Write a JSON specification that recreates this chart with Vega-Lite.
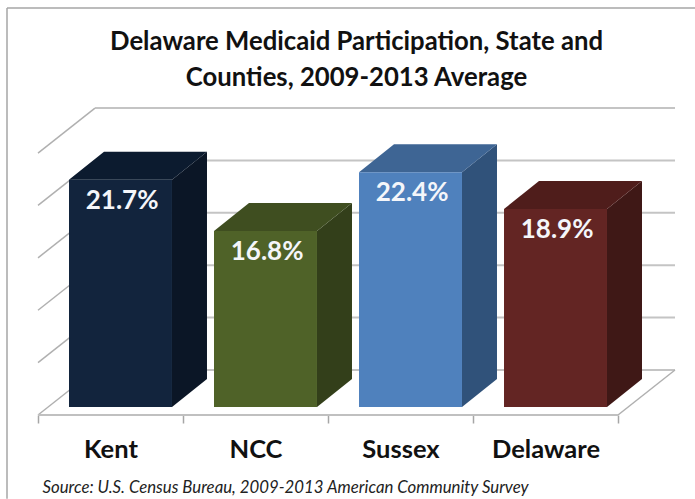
{
"$schema":"https://vega.github.io/schema/vega-lite/v6.json",
"width":637,"height":307,
"autosize":{"type":"none"},
"padding":{"left":38,"top":108,"right":20,"bottom":84},
"background":"white",
"view":{"stroke":null},
"title":{"text":["Delaware Medicaid Participation, State and","Counties, 2009-2013 Average"],"font":"Lato","fontSize":25.7,"fontWeight":"bold","color":"#111111","lineHeight":36,"anchor":"middle","frame":"group","offset":-84},
"datasets":{
"bars":[{"category":"Kent","pos":0,"value":21.7},{"category":"NCC","pos":1,"value":16.8},{"category":"Sussex","pos":2,"value":22.4},{"category":"Delaware","pos":3,"value":18.9}],
"grid":[{"v":0},{"v":5},{"v":10},{"v":15},{"v":20},{"v":25}],
"floor":[{"edge":"front"}]
},
"layer":[
{"data":{"name":"floor"},"mark":{"type":"rule","color":"#a6a6a6","strokeWidth":1.5},
 "encoding":{"x":{"datum":-0.2138,"type":"quantitative","scale":{"domain":[0,4.393],"nice":false,"zero":false},"axis":null},"y":{"datum":38.84,"type":"quantitative","scale":{"domain":[0,29.3],"nice":false,"zero":false},"axis":null},"y2":{"datum":-8.0}}},
{"data":{"name":"floor"},"mark":{"type":"rule","color":"#a6a6a6","strokeWidth":1.5},
 "encoding":{"x":{"datum":-0.2138,"type":"quantitative","scale":{"domain":[0,4.393],"nice":false,"zero":false},"axis":null},"x2":{"datum":4.531},"y":{"datum":38.84,"type":"quantitative","scale":{"domain":[0,29.3],"nice":false,"zero":false},"axis":null}}},
{"data":{"name":"grid"},"transform":[{"calculate":"datum.v+4.294","as":"back"},{"calculate":"0.393","as":"xb"},{"calculate":"4.393","as":"xe"}],
 "mark":{"type":"rule","color":"#c4c4c4","strokeWidth":2},
 "encoding":{"x":{"field":"xb","type":"quantitative","scale":{"domain":[0,4.393],"nice":false,"zero":false},"axis":{"values":[0,1,2,3,4],"domain":false,"grid":false,"ticks":true,"tickSize":8,"tickColor":"#a6a6a6","tickWidth":1.5,"labelExpr":"['Kent','NCC','Sussex','Delaware',''][datum.value]","labelOffset":72.5,"labelFont":"Lato","labelFontSize":25.5,"labelFontWeight":"bold","labelColor":"#111111","labelPadding":14,"labelOverlap":false,"labelFlush":false,"labelBound":false,"labelAngle":0,"title":"Source:  U.S. Census Bureau, 2009-2013 American Community Survey","titleFont":"Lato","titleFontSize":16.8,"titleFontStyle":"italic","titleFontWeight":"normal","titleColor":"#222222","titleAnchor":"start","titleAlign":"left","titleBaseline":"middle","titleX":4,"titleY":72}},"x2":{"field":"xe"},"y":{"field":"back","type":"quantitative","scale":{"domain":[0,29.3],"nice":false,"zero":false},"axis":null}}},
{"data":{"name":"grid"},"transform":[{"calculate":"datum.v+4.294","as":"back"},{"calculate":"0","as":"xb"},{"calculate":"0.393","as":"xe"}],
 "mark":{"type":"rule","color":"#b0b0b0","strokeWidth":1.5},
 "encoding":{"x":{"field":"xb","type":"quantitative","scale":{"domain":[0,4.393],"nice":false,"zero":false},"axis":null},"x2":{"field":"xe"},"y":{"field":"v","type":"quantitative","scale":{"domain":[0,29.3],"nice":false,"zero":false},"axis":null},"y2":{"field":"back"}}},
{"data":{"name":"floor"},"mark":{"type":"rule","color":"#b0b0b0","strokeWidth":1.5},
 "encoding":{"x":{"datum":4,"type":"quantitative","scale":{"domain":[0,4.393],"nice":false,"zero":false},"axis":null},"x2":{"datum":4.393},"y":{"datum":0,"type":"quantitative","scale":{"domain":[0,29.3],"nice":false,"zero":false},"axis":null},"y2":{"datum":4.294}}},
{"data":{"name":"floor"},"mark":{"type":"rule","color":"#c0c0c0","strokeWidth":2},
 "encoding":{"x":{"datum":0,"type":"quantitative","scale":{"domain":[0,4.393],"nice":false,"zero":false},"axis":null},"x2":{"datum":4},"y":{"datum":0,"type":"quantitative","scale":{"domain":[0,29.3],"nice":false,"zero":false},"axis":null}}},
{"data":{"name":"bars"},"transform":[{"calculate":"[0,1]","as":"t"},{"flatten":["t"]},{"calculate":"datum.pos+0.924+datum.t*0.2414","as":"x"},{"calculate":"0.763+datum.t*2.67","as":"lo"},{"calculate":"datum.value+0.763+datum.t*2.67","as":"hi"}],
 "mark":{"type":"area","orient":"vertical"},
 "encoding":{"x":{"field":"x","type":"quantitative","scale":{"domain":[0,4.393],"nice":false,"zero":false},"axis":null},"y":{"field":"lo","type":"quantitative","scale":{"domain":[0,29.3],"nice":false,"zero":false},"axis":null},"y2":{"field":"hi"},"detail":{"field":"category"},"color":{"field":"category","type":"nominal","legend":null,"scale":{"domain":["Kent","NCC","Sussex","Delaware"],"range":["#0b1626","#333f1a","#30527a","#3f1816"]}}}},
{"data":{"name":"bars"},"transform":[{"calculate":"[0,1]","as":"t"},{"flatten":["t"]},{"calculate":"datum.pos+0.2138+datum.t*0.2414","as":"xa"},{"calculate":"datum.pos+0.924+datum.t*0.2414","as":"xb"},{"calculate":"datum.value+0.763+datum.t*2.67","as":"hi"}],
 "mark":{"type":"area","orient":"horizontal"},
 "encoding":{"x":{"field":"xa","type":"quantitative","scale":{"domain":[0,4.393],"nice":false,"zero":false},"axis":null},"x2":{"field":"xb"},"y":{"field":"hi","type":"quantitative","scale":{"domain":[0,29.3],"nice":false,"zero":false},"axis":null},"detail":{"field":"category"},"color":{"field":"category","type":"nominal","legend":null,"scale":{"domain":["Kent","NCC","Sussex","Delaware"],"range":["#0c1b2f","#3f4e20","#3e6594","#4f1d1b"]}}}},
{"data":{"name":"bars"},"transform":[{"calculate":"datum.pos+0.2138","as":"xa"},{"calculate":"datum.pos+0.924","as":"xb"},{"calculate":"0.763","as":"lo"},{"calculate":"datum.value+0.763","as":"hi"}],
 "mark":{"type":"rect"},
 "encoding":{"x":{"field":"xa","type":"quantitative","scale":{"domain":[0,4.393],"nice":false,"zero":false},"axis":null},"x2":{"field":"xb"},"y":{"field":"lo","type":"quantitative","scale":{"domain":[0,29.3],"nice":false,"zero":false},"axis":null},"y2":{"field":"hi"},"color":{"field":"category","type":"nominal","legend":null,"scale":{"domain":["Kent","NCC","Sussex","Delaware"],"range":["#12243d","#4f6228","#4f81bd","#632523"]}}}},
{"data":{"name":"bars"},"transform":[{"calculate":"datum.pos+0.58","as":"xc"},{"calculate":"datum.value+0.763","as":"hi"},{"calculate":"format(datum.value,'.1f')+'%'","as":"lab"}],
 "mark":{"type":"text","font":"Lato","fontSize":26,"fontWeight":"bold","color":"#f4f6fa","baseline":"middle","dy":21},
 "encoding":{"x":{"field":"xc","type":"quantitative","scale":{"domain":[0,4.393],"nice":false,"zero":false},"axis":null},"y":{"field":"hi","type":"quantitative","scale":{"domain":[0,29.3],"nice":false,"zero":false},"axis":null},"text":{"field":"lab"}}}
],
"resolve":{"scale":{"color":"independent"},"axis":{"x":"independent"}}
}
